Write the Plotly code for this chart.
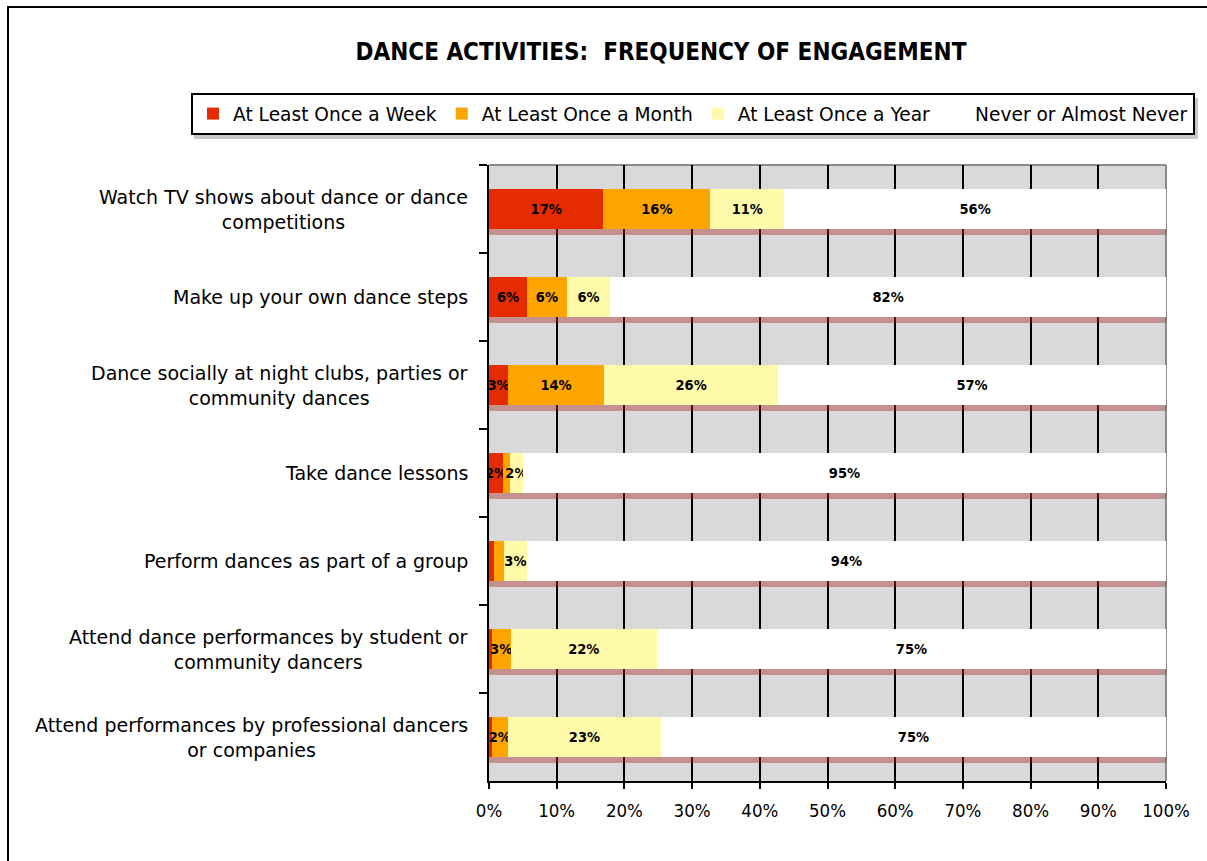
import plotly.graph_objects as go

categories = [
    "Watch TV shows about dance or dance<br>competitions",
    "Make up your own dance steps",
    "Dance socially at night clubs, parties or<br>community dances",
    "Take dance lessons",
    "Perform dances as part of a group",
    "Attend dance performances by student or<br>community dancers",
    "Attend performances by professional dancers<br>or companies",
]
cat_keys = [f"c{i}" for i in range(len(categories))]

series_names = ["At Least Once a Week", "At Least Once a Month",
                "At Least Once a Year", "Never or Almost Never"]
weekly = [16.9, 5.6, 2.8, 2.1, 0.8, 0.4, 0.4]
monthly = [15.8, 5.9, 14.2, 1.0, 1.4, 2.8, 2.4]
yearly = [10.9, 6.4, 25.7, 1.9, 3.4, 21.6, 22.6]
never = [56.4, 82.1, 57.3, 95.0, 94.4, 75.2, 74.6]
series_values = [weekly, monthly, yearly, never]
series_colors = ["#E52B00", "#FFA500", "#FFFAAA", "#FFFFFF"]

x_ticks = list(range(0, 101, 10))
x_ticklabels = [f"{v}%" for v in x_ticks]

# plot-area geometry (pixels) for placing decorations
W, H = 1207, 861
L, R, T, B = 489, 1166, 165, 781


def px_x(p):
    return (p - L) / (R - L)


def px_y(p):
    return (B - p) / (B - T)


def label(v):
    return f"{v:.0f}%" if v >= 1.5 else ""


fig = go.Figure()

# drop shadow under each bar (on the main y axis, slightly shifted)
totals = [sum(s[i] for s in series_values) for i in range(len(categories))]
fig.add_trace(go.Bar(
    y=cat_keys, x=totals, orientation="h", yaxis="y",
    marker=dict(color="rgba(170,45,40,0.42)", line=dict(width=0)),
    showlegend=False, hoverinfo="skip",
))

for name, vals, col in zip(series_names, series_values, series_colors):
    fig.add_trace(go.Bar(
        y=cat_keys, x=vals, orientation="h", name=name, yaxis="y2",
        marker=dict(color=col, line=dict(width=0)),
        text=[label(v) for v in vals],
        textposition="inside", insidetextanchor="middle",
        constraintext="none", textangle=0,
        textfont=dict(family="DejaVu Sans Condensed", size=14.5, color="black", weight="bold"),
    ))

n = len(categories)
shift = 6 / ((B - T) / n)

annotations = []
for key, txt in zip(cat_keys, categories):
    annotations.append(dict(
        x=px_x(470), xref="paper", y=key, yref="y2",
        text=txt, showarrow=False, xanchor="right", yanchor="middle",
        align="center", font=dict(family="DejaVu Sans", size=19, color="black"),
    ))

shapes = [
    # outer frame
    dict(type="rect", xref="paper", yref="paper",
         x0=px_x(8), x1=px_x(1240), y0=px_y(900), y1=px_y(7),
         line=dict(color="black", width=2), fillcolor="rgba(0,0,0,0)", layer="below"),
    # legend shadow
    dict(type="rect", xref="paper", yref="paper",
         x0=px_x(194), x1=px_x(1198), y0=px_y(139), y1=px_y(98),
         line=dict(width=0), fillcolor="rgba(0,0,0,0.22)", layer="below"),
    # gray top/right border of plot area
    dict(type="line", xref="paper", yref="paper", x0=0, x1=1, y0=1, y1=1,
         line=dict(color="#8c8c8c", width=2), layer="below"),
    dict(type="line", xref="paper", yref="paper", x0=1, x1=1, y0=0, y1=1,
         line=dict(color="#8c8c8c", width=2), layer="below"),
]

fig.update_layout(
    width=W, height=H,
    margin=dict(l=L, r=W - R, t=T, b=H - B),
    paper_bgcolor="white", plot_bgcolor="#D9D9D9",
    barmode="stack", bargap=0.55,
    title=dict(text="<b>DANCE ACTIVITIES:  FREQUENCY OF ENGAGEMENT</b>",
               x=661 / W, xanchor="center", y=1 - 52 / H, yanchor="middle",
               font=dict(family="DejaVu Sans Condensed", size=24, color="black")),
    legend=dict(orientation="h", x=px_x(191), xanchor="left", y=px_y(93), yanchor="top",
                bgcolor="white", bordercolor="black", borderwidth=2,
                font=dict(family="DejaVu Sans", size=18.6, color="black"),
                traceorder="normal"),
    xaxis=dict(range=[0, 100], tickvals=x_ticks, ticktext=x_ticklabels,
               showgrid=True, gridcolor="black", gridwidth=2,
               showline=True, linecolor="black", linewidth=2,
               ticks="outside", ticklen=6, tickwidth=2, tickcolor="black",
               ticklabelstandoff=6,
               tickfont=dict(family="DejaVu Sans Condensed", size=18.5, color="black"),
               zeroline=False, fixedrange=True),
    yaxis=dict(type="category", categoryorder="array", categoryarray=cat_keys,
               range=[n - 0.5 - shift, -0.5 - shift], visible=False,
               showgrid=False, zeroline=False),
    yaxis2=dict(type="category", categoryorder="array", categoryarray=cat_keys,
                range=[n - 0.5, -0.5], overlaying="y", side="left", anchor="x",
                showgrid=False, zeroline=False, showticklabels=False,
                showline=True, linecolor="black", linewidth=2,
                ticks="outside", tickson="boundaries", ticklen=8, tickwidth=2,
                tickcolor="black"),
    annotations=annotations,
    shapes=shapes,
)

fig.write_html("out.html", config={"displayModeBar": False},
               post_script="document.body.style.margin='0';")
